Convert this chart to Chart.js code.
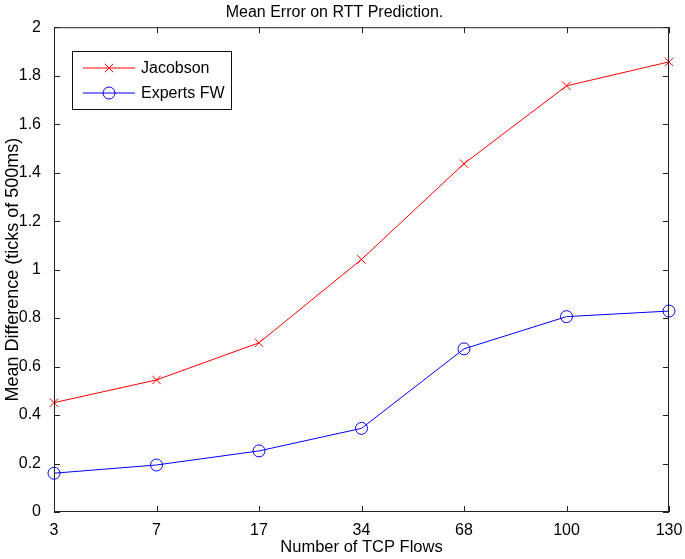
<!DOCTYPE html>
<html>
<head>
<meta charset="utf-8">
<script src="https://cdn.jsdelivr.net/npm/chart.js@4/dist/chart.umd.min.js"></script>
<style>
    body { margin: 0; background: #fff; }
</style>
</head>
<body>
<canvas id="rttChart" width="685" height="559"></canvas>
<script>
const flows = ['3', '7', '17', '34', '68', '100', '130'];
const jacobson = [0.451, 0.545, 0.698, 1.042, 1.437, 1.758, 1.857];
const expertsFw = [0.160, 0.194, 0.252, 0.345, 0.673, 0.806, 0.829];
const yTicks = [0, 0.2, 0.4, 0.6, 0.8, 1, 1.2, 1.4, 1.6, 1.8, 2];

const FONT = 'Liberation Sans, Arial, Helvetica, sans-serif';

// matlab style box, inner ticks and legend
const matlabAxes = {
    id: 'matlabAxes',
    afterDraw(chart) {
        const { ctx, chartArea: { left, right, top, bottom }, scales: { x, y } } = chart;
        const tick = 6;
        ctx.save();
        ctx.strokeStyle = '#222';
        ctx.lineWidth = 1;
        ctx.strokeRect(left + 0.5, top + 0.5, right - left - 1, bottom - top - 1);
        ctx.beginPath();
        flows.forEach((f, i) => {
            const px = Math.round(x.getPixelForValue(i)) + 0.5;
            ctx.moveTo(px, bottom); ctx.lineTo(px, bottom - tick);
            ctx.moveTo(px, top); ctx.lineTo(px, top + tick);
        });
        yTicks.forEach((v) => {
            const py = Math.round(y.getPixelForValue(v)) + 0.5;
            ctx.moveTo(left, py); ctx.lineTo(left + tick, py);
            ctx.moveTo(right, py); ctx.lineTo(right - tick, py);
        });
        ctx.stroke();

        // legend
        const bx = 72, by = 51, bw = 159, bh = 58;
        ctx.fillStyle = '#fff';
        ctx.fillRect(bx, by, bw, bh);
        ctx.strokeStyle = '#111';
        ctx.strokeRect(bx + 0.5, by + 0.5, bw, bh);
        ctx.font = '16px ' + FONT;
        ctx.textBaseline = 'middle';
        chart.data.datasets.forEach((ds, i) => {
            const ly = by + 17 + i * 25;
            ctx.strokeStyle = ds.borderColor;
            ctx.lineWidth = 1;
            ctx.beginPath();
            ctx.moveTo(bx + 11, ly); ctx.lineTo(bx + 63, ly);
            ctx.stroke();
            ctx.fillStyle = 'rgba(0,0,0,0)';
            Chart.helpers.drawPoint(ctx, {
                pointStyle: ds.pointStyle,
                radius: ds.pointRadius,
                rotation: 0,
                borderWidth: 1,
            }, bx + 37, ly);
            ctx.fillStyle = '#000';
            ctx.fillText(ds.label, bx + 69, ly + 1);
        });
        ctx.restore();
    }
};

new Chart(document.getElementById('rttChart'), {
    type: 'line',
    data: {
        labels: flows,
        datasets: [
            {
                label: 'Jacobson',
                data: jacobson,
                borderColor: '#ff0000',
                borderWidth: 1,
                pointStyle: 'crossRot',
                pointRadius: 6,
                pointBorderColor: '#ff0000',
                pointBorderWidth: 1,
                tension: 0,
            },
            {
                label: 'Experts FW',
                data: expertsFw,
                borderColor: '#0000ff',
                borderWidth: 1,
                pointStyle: 'circle',
                pointRadius: 6,
                pointBackgroundColor: 'rgba(0,0,0,0)',
                pointBorderColor: '#0000ff',
                pointBorderWidth: 1,
                tension: 0,
            },
        ]
    },
    options: {
        responsive: false,
        animation: false,
        layout: {
            padding: { left: 0, right: 16, top: 0, bottom: 0 }
        },
        plugins: {
            legend: { display: false },
            tooltip: { enabled: false },
            title: {
                display: true,
                text: 'Mean Error on RTT Prediction.',
                color: '#000',
                font: { size: 16, family: FONT, weight: 'normal' },
                padding: { top: 3, bottom: 5 },
            },
        },
        scales: {
            x: {
                offset: false,
                grid: { display: false },
                border: { display: false },
                ticks: {
                    color: '#000',
                    padding: 1,
                    maxRotation: 0,
                    font: { size: 16, family: FONT },
                },
                title: {
                    display: true,
                    text: 'Number of TCP Flows',
                    color: '#000',
                    font: { size: 16.5, family: FONT },
                    padding: { top: 2, bottom: 2 },
                },
                afterFit: (scale) => { scale.height = 47; },
            },
            y: {
                min: 0,
                max: 2,
                grid: { display: false },
                border: { display: false },
                afterBuildTicks: (scale) => {
                    scale.ticks = yTicks.map((v) => ({ value: v }));
                },
                ticks: {
                    color: '#000',
                    padding: 5,
                    font: { size: 16, family: FONT },
                    callback: (value) => String(+value.toFixed(1)),
                },
                title: {
                    display: true,
                    text: 'Mean Difference (ticks of 500ms)',
                    color: '#000',
                    font: { size: 18, family: FONT },
                    padding: { top: 2, bottom: 1 },
                },
                afterFit: (scale) => { scale.width = 54; },
            },
        },
    },
    plugins: [matlabAxes],
});
</script>
</body>
</html>
